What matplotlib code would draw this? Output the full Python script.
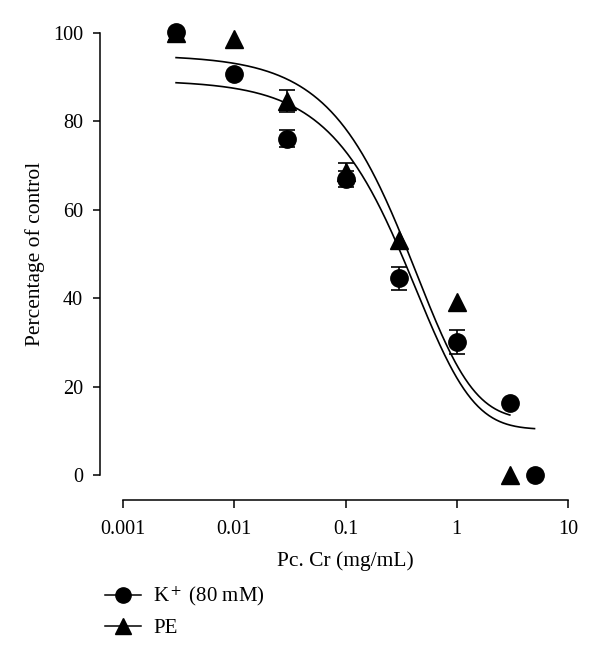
import numpy as np
import matplotlib
matplotlib.use("Agg")
import matplotlib.pyplot as plt
from matplotlib.lines import Line2D

plt.rcParams["font.family"] = "serif"
plt.rcParams["font.serif"] = ["Liberation Serif", "DejaVu Serif"]
plt.rcParams["mathtext.fontset"] = "stix"

# Data
k_conc = [0.003, 0.01, 0.03, 0.1, 0.3, 1, 3, 5]
k_resp = [100.2, 90.7, 76.1, 67.0, 44.5, 30.0, 16.2, 0.0]
k_err_low = [1.8, 0.0, 1.9, 1.8, 2.6, 2.7, 0.0, 0.0]
k_err_up = [0.0, 0.0, 1.9, 1.8, 2.6, 2.7, 0.0, 0.0]

pe_conc = [0.003, 0.01, 0.03, 0.1, 0.3, 1, 3]
pe_resp = [100.0, 98.6, 84.6, 68.6, 53.2, 39.1, 0.0]
pe_err_low = [0.0, 0.0, 2.4, 2.1, 0.0, 0.0, 0.0]
pe_err_up = [0.0, 0.0, 2.4, 2.1, 0.0, 0.0, 0.0]

# fitted curve parameters (top, bottom, ec, hill, asymmetry)
k_fit = (89.3, 10.3, 2.15, 1.0, 5.0)
k_fit_range = (0.003, 5)
pe_fit = (95.0, 12.5, 2.17, 1.0, 5.0)
pe_fit_range = (0.003, 3)

xticks = [0.001, 0.01, 0.1, 1, 10]
xtick_labels = ["0.001", "0.01", "0.1", "1", "10"]
yticks = [0, 20, 40, 60, 80, 100]


def logistic(x, top, bottom, ec, hill, s):
    return bottom + (top - bottom) / (1 + (x / ec) ** hill) ** s


fig = plt.figure(figsize=(6, 6.59), dpi=100)
ax = fig.add_axes([123 / 600, 1 - 475 / 659, 445 / 600, 442 / 659])
ax.set_xscale("log")
ax.set_xlim(1e-3, 10)
ax.set_ylim(0, 100)

# fit curves
for fit, rng in [(k_fit, k_fit_range), (pe_fit, pe_fit_range)]:
    xx = np.logspace(np.log10(rng[0]), np.log10(rng[1]), 300)
    ax.plot(xx, logistic(xx, *fit), color="black", lw=1.2, clip_on=False)

# error bars (only non-zero)
for xs, ys, lo, up in [(pe_conc, pe_resp, pe_err_low, pe_err_up),
                       (k_conc, k_resp, k_err_low, k_err_up)]:
    xs, ys, lo, up = map(np.array, (xs, ys, lo, up))
    m = (lo > 0) | (up > 0)
    ax.errorbar(xs[m], ys[m], yerr=[lo[m], up[m]], fmt="none", ecolor="black",
                elinewidth=1.2, capsize=6, capthick=1.2, clip_on=False)

ax.plot(pe_conc, pe_resp, "^", color="black", ms=13, clip_on=False, zorder=3)
ax.plot(k_conc, k_resp, "o", color="black", ms=12.5, clip_on=False, zorder=4)

# axes styling
for side in ["top", "right"]:
    ax.spines[side].set_visible(False)
ax.spines["left"].set_position(("outward", 16.5))
ax.spines["bottom"].set_position(("outward", 18))
for side in ["left", "bottom"]:
    ax.spines[side].set_linewidth(1.1)

ax.set_xticks(xticks)
ax.set_xticklabels(xtick_labels)
ax.xaxis.set_minor_locator(matplotlib.ticker.NullLocator())
ax.set_yticks(yticks)
ax.tick_params(direction="out", length=5.4, width=1.1, labelsize=14.5, pad=7)
ax.tick_params(axis="x", pad=9)

ax.set_xlabel("Pc. Cr (mg/mL)", fontsize=15.5, va="center")
ax.xaxis.set_label_coords(0.5, (475 - 561) / 442)
ax.set_ylabel("Percentage of control", fontsize=15.5, va="center")
ax.yaxis.set_label_coords((35 - 123) / 445, 0.5)

handles = [
    Line2D([], [], color="black", lw=1.1, marker="o", ms=11),
    Line2D([], [], color="black", lw=1.1, marker="^", ms=12),
]
fig.legend(handles, [r"K$^+$ (80 mM)", "PE"], loc="center left",
           bbox_to_anchor=(105 / 600, 1 - 611.5 / 659), frameon=False,
           fontsize=15, borderpad=0, borderaxespad=0, handlelength=1.75,
           handletextpad=0.55, labelspacing=0.5)

fig.savefig("out.png", dpi=100)
